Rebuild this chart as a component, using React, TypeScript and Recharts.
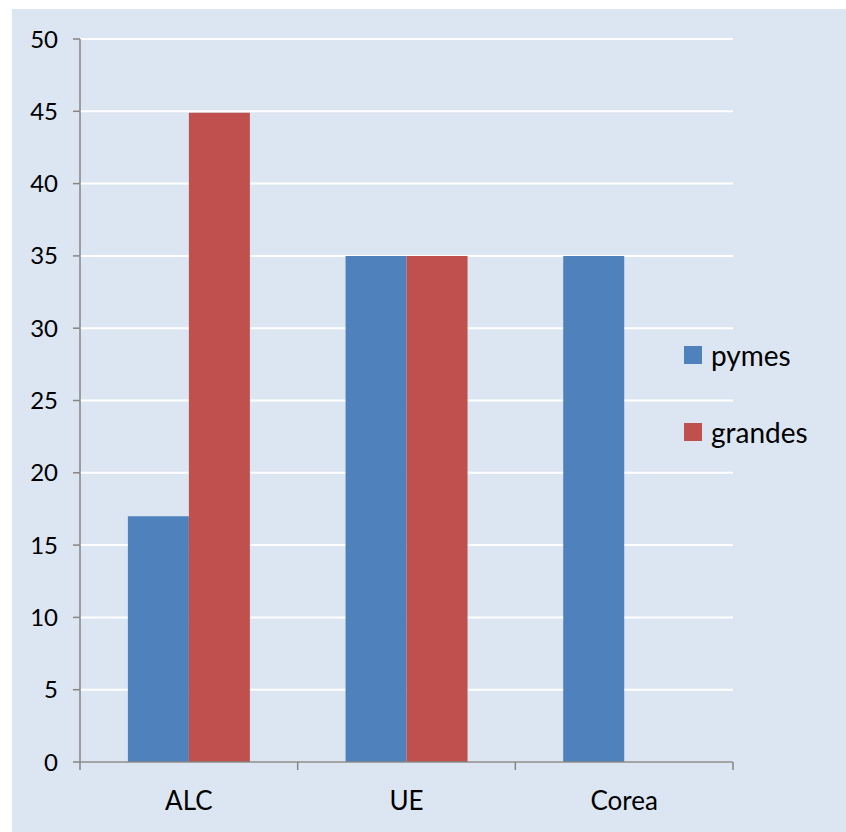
import React from 'react';
import { BarChart, Bar, XAxis, YAxis, CartesianGrid } from 'recharts';

const categories = ['ALC', 'UE', 'Corea'];
const pymes = [17, 35, 35];
const grandes = [44.9, 35, null];
const yTicks = [0, 5, 10, 15, 20, 25, 30, 35, 40, 45, 50];

const series = [
  { key: 'pymes', label: 'pymes', color: '#4f81bd' },
  { key: 'grandes', label: 'grandes', color: '#c0504d' },
];

const data = categories.map((name, i) => ({ name, pymes: pymes[i], grandes: grandes[i] }));

const FONT = 'Lato, "Open Sans", sans-serif';
const AXIS = '#868686';
const BAND = (834 - 68 - 113) / categories.length;

// category label plus the tick marks that sit on the category boundaries
const XTick = (props: any) => {
  const { x, y, payload, index } = props;
  const left = x - BAND / 2;
  return (
    <g>
      <line x1={left} y1={y - 8} x2={left} y2={y} stroke={AXIS} strokeWidth={1.5} />
      {index === categories.length - 1 && (
        <line x1={x + BAND / 2} y1={y - 8} x2={x + BAND / 2} y2={y} stroke={AXIS} strokeWidth={1.5} />
      )}
      <text x={x} y={y + 40} textAnchor="middle" fontSize={26} fill="#000" fontFamily={FONT}>
        {payload.value}
      </text>
    </g>
  );
};

export default function App() {
  return (
    <div style={{ position: 'absolute', left: 12, top: 9, width: 834, height: 823, background: '#dce6f2' }}>
      <BarChart
        width={834}
        height={823}
        data={data}
        margin={{ top: 30, right: 113, bottom: 0, left: 0 }}
        barCategoryGap="22%"
        barGap={0}
      >
        <CartesianGrid vertical={false} stroke="#ffffff" strokeWidth={2} />
        <XAxis
          dataKey="name"
          height={70}
          axisLine={{ stroke: AXIS, strokeWidth: 1.5 }}
          tickLine={false}
          tick={<XTick />}
          interval={0}
        />
        <YAxis
          width={68}
          domain={[0, 50]}
          ticks={yTicks}
          interval={0}
          axisLine={{ stroke: AXIS, strokeWidth: 1.5 }}
          tickLine={{ stroke: AXIS, strokeWidth: 1.5 }}
          tickSize={7}
          tickMargin={15}
          tick={{ fontSize: 24, fill: '#000', fontFamily: FONT }}
        />
        {series.map((s) => (
          <Bar key={s.key} dataKey={s.key} fill={s.color} isAnimationActive={false} />
        ))}
      </BarChart>
      <div style={{ position: 'absolute', left: 672, top: 307, fontFamily: FONT, fontSize: 28 }}>
        {series.map((s) => (
          <div key={s.key} style={{ display: 'flex', alignItems: 'center', height: 77 }}>
            <span style={{ width: 18, height: 18, background: s.color, marginRight: 9 }} />
            <span>{s.label}</span>
          </div>
        ))}
      </div>
    </div>
  );
}
